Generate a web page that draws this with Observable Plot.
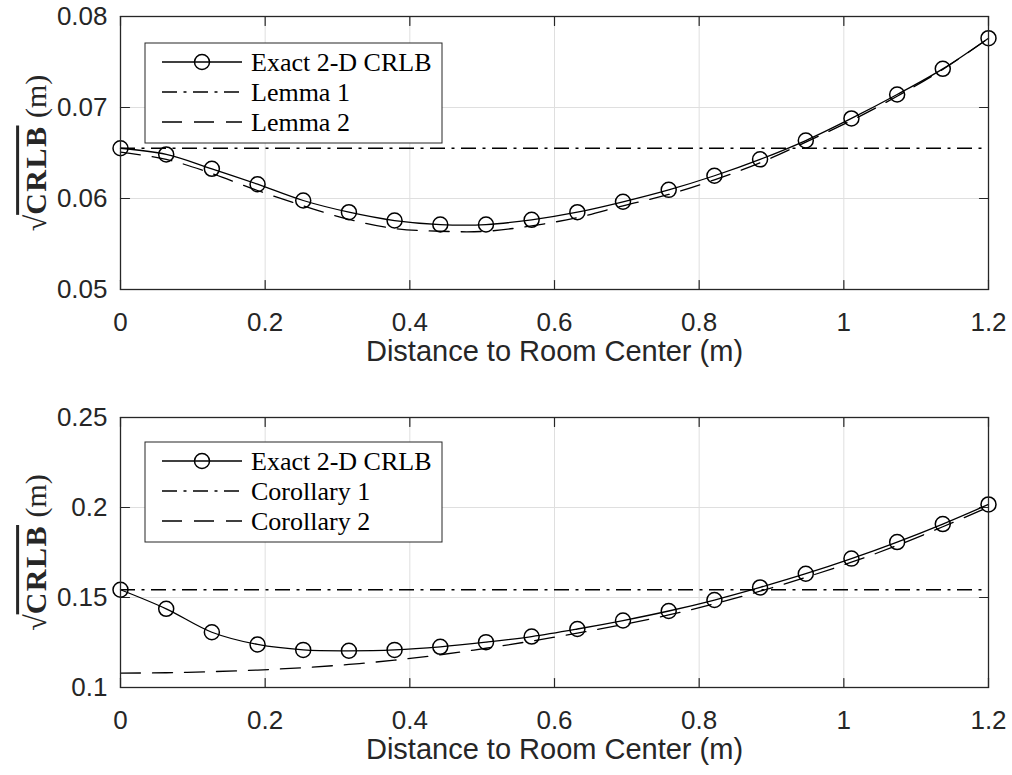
<!DOCTYPE html>
<html><head><meta charset="utf-8">
<script src="https://cdn.jsdelivr.net/npm/d3@7"></script>
<script src="https://cdn.jsdelivr.net/npm/@observablehq/plot@0.6"></script>
<style>
body{margin:0;background:#fff;}
#wrap{position:relative;width:1012px;height:775px;overflow:hidden;}
#wrap svg{display:block;}
#legend{position:absolute;left:0;top:0;}
</style></head><body><div id="wrap"></div>
<script>
// ---- data ----
const xMarkers = [0, 0.0632, 0.1263, 0.1895, 0.2526, 0.3158, 0.3789, 0.4421, 0.5053, 0.5684, 0.6316, 0.6947, 0.7579, 0.8211, 0.8842, 0.9474, 1.0105, 1.0737, 1.1368, 1.2];
const exactTop = [0.06552, 0.06484, 0.06326, 0.06157, 0.05978, 0.0585, 0.05758, 0.05714, 0.05714, 0.05766, 0.0585, 0.05964, 0.06095, 0.0625, 0.0643, 0.06637, 0.0688, 0.07143, 0.07425, 0.07762];
const lemma1 = 0.06552;
const lemma2 = [0.0651, 0.0643, 0.06275, 0.06088, 0.0592, 0.0577, 0.0567, 0.0564, 0.0564, 0.0570, 0.0579, 0.0592, 0.06044, 0.06205, 0.06392, 0.0662, 0.06857, 0.07124, 0.07418, 0.0776];
const exactBottom = [0.1543, 0.1437, 0.1307, 0.1239, 0.1209, 0.1204, 0.1209, 0.1226, 0.1252, 0.1283, 0.1325, 0.1372, 0.1425, 0.1486, 0.1556, 0.1632, 0.1716, 0.1808, 0.1908, 0.2017];
const corollary1 = 0.1543;
const corollary2 = [0.1080, 0.1082, 0.1088, 0.1097, 0.1110, 0.1128, 0.1152, 0.1182, 0.1218, 0.1258, 0.1302, 0.1350, 0.1403, 0.1465, 0.1535, 0.1612, 0.1696, 0.1789, 0.1893, 0.2003];
const xTicks = [0, 0.2, 0.4, 0.6, 0.8, 1, 1.2];
const yTicksTop = [0.05, 0.06, 0.07, 0.08];
const yTicksBottom = [0.1, 0.15, 0.2, 0.25];
const xLabel = "Distance to Room Center (m)";
const yLabel = "√CRLB (m)";
const legendTop = ["Exact 2-D CRLB", "Lemma 1", "Lemma 2"];
const legendBottom = ["Exact 2-D CRLB", "Corollary 1", "Corollary 2"];

const INK = "#262626";
const SERIF = "'Liberation Serif', 'Times New Roman', serif";
const DASHDOT = "15,6.5,3,6.5";
const DASH = "20,12";
const tickShape = {draw(ctx, l) { ctx.moveTo(0, 0); ctx.lineTo(0, -l); }};

function panel({exact, approx, flat, yTicks, height, marginTop, marginBottom}) {
  const xDom = [xTicks[0], xTicks[xTicks.length - 1]];
  const yDom = [yTicks[0], yTicks[yTicks.length - 1]];
  const rows = xMarkers.map((x, i) => ({x, exact: exact[i], approx: approx[i]}));
  const tickOpts = {length: 9, anchor: "start", shape: tickShape, stroke: INK, strokeWidth: 1.2};
  const svg = Plot.plot({
    width: 1012, height, marginTop, marginBottom, marginLeft: 120, marginRight: 24,
    style: {fontFamily: "'Liberation Sans', Arial, sans-serif", background: "white", overflow: "visible"},
    x: {domain: xDom},
    y: {domain: yDom},
    marks: [
      Plot.gridX(xTicks, {stroke: "#dfdfdf", strokeOpacity: 1, strokeWidth: 1}),
      Plot.gridY(yTicks, {stroke: "#dfdfdf", strokeOpacity: 1, strokeWidth: 1}),
      Plot.vector(xTicks, {...tickOpts, x: d => d, y: () => yDom[0], rotate: 0}),
      Plot.vector(xTicks, {...tickOpts, x: d => d, y: () => yDom[1], rotate: 180}),
      Plot.vector(yTicks, {...tickOpts, y: d => d, x: () => xDom[0], rotate: 90}),
      Plot.vector(yTicks, {...tickOpts, y: d => d, x: () => xDom[1], rotate: -90}),
      Plot.ruleY([flat], {stroke: "#000", strokeWidth: 1.3, strokeDasharray: DASHDOT}),
      Plot.line(rows, {x: "x", y: "approx", curve: "catmull-rom", stroke: "#000", strokeWidth: 1.3, strokeDasharray: DASH}),
      Plot.line(rows, {x: "x", y: "exact", curve: "catmull-rom", stroke: "#000", strokeWidth: 1.3}),
      Plot.dot(rows, {x: "x", y: "exact", r: 7.5, stroke: "#000", strokeWidth: 1.5, fill: "none"}),
      Plot.frame({stroke: INK, strokeWidth: 1.3}),
      Plot.axisX(xTicks, {tickSize: 0, tickPadding: 23, fontSize: 26, fill: INK, tickFormat: d => String(d), label: null}),
      Plot.axisY(yTicks, {tickSize: 0, tickPadding: 13, fontSize: 26, fill: INK, tickFormat: d => String(d), label: null}),
      Plot.text([xLabel], {text: d => d, frameAnchor: "bottom", dy: 71, fontSize: 29, fill: INK}),
      Plot.text([yLabel], {text: d => d, frameAnchor: "left", textAnchor: "middle", dx: -84, rotate: -90, fontSize: 30, fill: INK})
    ]
  });
  d3.select(svg).selectAll("text").filter(function() { return this.textContent === yLabel; }).each(function() {
    const t = d3.select(this);
    t.text(null).attr("font-family", SERIF).style("font-family", SERIF).attr("font-size", 30).attr("text-anchor", "middle");
    t.append("tspan").text("√");
    t.append("tspan").attr("font-weight", "bold").attr("letter-spacing", 1.5).style("text-decoration", "overline").text("CRLB");
    t.append("tspan").text(" (m)");
  });
  return svg;
}

const wrap = document.getElementById("wrap");
wrap.appendChild(panel({exact: exactTop, approx: lemma2, flat: lemma1, yTicks: yTicksTop, height: 387, marginTop: 16, marginBottom: 98}));
wrap.appendChild(panel({exact: exactBottom, approx: corollary2, flat: corollary1, yTicks: yTicksBottom, height: 388, marginTop: 30, marginBottom: 88}));

// ---- legends (inside each axes, upper-left) ----
const lg = d3.select(wrap).append("svg").attr("id", "legend").attr("width", 1012).attr("height", 775);
function legend(labels, top) {
  const g = lg.append("g").attr("transform", `translate(145,${top})`);
  g.append("rect").attr("x", 0).attr("y", 0).attr("width", 297).attr("height", 100)
    .attr("fill", "white").attr("stroke", INK).attr("stroke-width", 1);
  const styles = [null, DASHDOT, DASH];
  labels.forEach((lab, i) => {
    const y = 19 + i * 30;
    g.append("line").attr("x1", 17).attr("x2", 97).attr("y1", y).attr("y2", y)
      .attr("stroke", "#000").attr("stroke-width", 1.3).attr("stroke-dasharray", styles[i]);
    if (i === 0) g.append("circle").attr("cx", 57).attr("cy", y).attr("r", 7.5)
      .attr("fill", "none").attr("stroke", "#000").attr("stroke-width", 1.5);
    g.append("text").attr("x", 106).attr("y", y + 8.5).attr("font-size", 26)
      .attr("font-family", SERIF).attr("fill", "#000").text(lab);
  });
}
legend(legendTop, 43);
legend(legendBottom, 442);
</script>
</body></html>
